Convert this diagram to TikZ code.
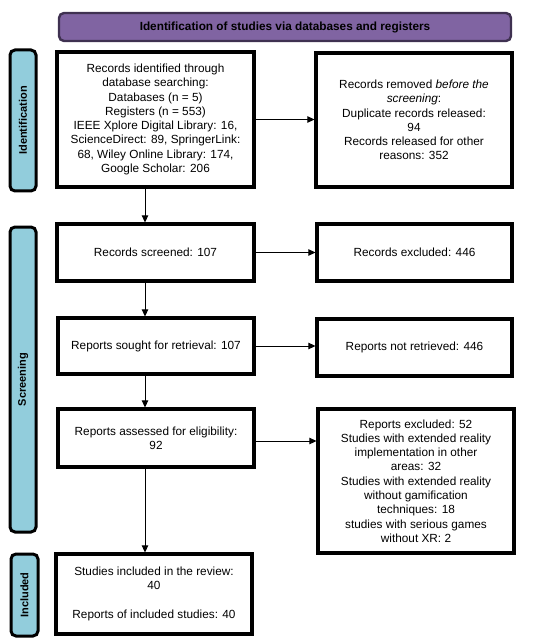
\documentclass[tikz,border=0pt]{standalone}
\usepackage{fontspec}
\setmainfont{Liberation Sans}
\usetikzlibrary{arrows.meta}
\definecolor{titlefill}{HTML}{8064A2}
\definecolor{titledraw}{HTML}{3F3151}
\definecolor{sidefill}{HTML}{92CDDC}
\tikzset{
  box/.style={draw=black, line width=3.2pt, fill=white, align=center, inner sep=2pt,
    font=\fontsize{11.8}{14.3}\selectfont},
  sidebar/.style={draw=black, line width=3pt, fill=sidefill, rounded corners=5pt,
    font=\bfseries\fontsize{11}{13}\selectfont},
  arr/.style={line width=0.9pt, -{Triangle[length=7pt,width=6.5pt]}},
}
\begin{document}
\begin{tikzpicture}[x=1pt,y=-1pt]
\useasboundingbox (0,0) rectangle (550,644);
% title
\node[draw=titledraw, line width=2.4pt, fill=titlefill, rounded corners=5pt,
  minimum width=452pt, minimum height=28pt, font=\bfseries\fontsize{11.8}{14}\selectfont]
  (title) at (285,27) {Identification of studies via databases and registers};
% side bars
\node[sidebar, minimum width=26pt, minimum height=141pt] (s1) at (23,120.5) {};
\node[rotate=90, font=\bfseries\fontsize{11}{13}\selectfont] (s1t) at (s1.center) {Identification};
\node[sidebar, minimum width=26pt, minimum height=305pt] (s2) at (23,379.5) {};
\node[rotate=90, font=\bfseries\fontsize{11}{13}\selectfont] (s2t) at (s2.center) {Screening};
\node[sidebar, minimum width=27pt, minimum height=82pt] (s3) at (24.5,595) {};
\node[rotate=90, font=\bfseries\fontsize{11}{13}\selectfont] (s3t) at (s3.center) {Included};
% boxes
\node[box, minimum width=197pt, minimum height=135pt] (b1) at (155.5,119.5)
  {Records identified through\\database searching:\\Databases (n = 5)\\Registers (n = 553)\\IEEE Xplore Digital Library: 16,\\ScienceDirect: 89, SpringerLink:\\68, Wiley Online Library: 174,\\Google Scholar: 206};
\node[box, minimum width=196pt, minimum height=134pt] (b2) at (414,120)
  {Records removed \textit{before the}\\\textit{screening}:\\Duplicate records released:\\94\\Records released for other\\reasons: 352};
\node[box, minimum width=197pt, minimum height=57pt] (b3) at (155.5,252.5) {Records screened: 107};
\node[box, minimum width=195pt, minimum height=57pt] (b4) at (414.5,252.5) {Records excluded: 446};
\node[box, minimum width=196pt, minimum height=56pt] (b5) at (156,346) {Reports sought for retrieval: 107};
\node[box, minimum width=195pt, minimum height=57pt] (b6) at (414.5,347.5) {Reports not retrieved: 446};
\node[box, minimum width=196pt, minimum height=58pt] (b7) at (156,438) {Reports assessed for eligibility:\\92};
\node[box, minimum width=196pt, minimum height=144pt] (b8) at (416,481)
  {Reports excluded: 52\\Studies with extended reality\\implementation in other\\areas: 32\\Studies with extended reality\\without gamification\\techniques: 18\\studies with serious games\\without XR: 2};
\node[box, minimum width=196pt, minimum height=80pt] (b9) at (154,594)
  {Studies included in the review:\\40\\[14.3pt]Reports of included studies: 40};
% connectors
\coordinate (ax) at (145,0);
\draw[arr] (b1.south -| ax) -- (b3.north -| ax);
\draw[arr] (b3.south -| ax) -- (b5.north -| ax);
\draw[arr] (b5.south -| ax) -- (b7.north -| ax);
\draw[arr] (b7.south -| ax) -- (b9.north -| ax);
\draw[arr] (b1.east) -- (b1.east -| b2.west);
\draw[arr] (b3.east) -- (b3.east -| b4.west);
\draw[arr] (b5.east) -- (b5.east -| b6.west);
\coordinate (y8) at (0,441);
\draw[arr] (b7.east |- y8) -- (b8.west |- y8);
\end{tikzpicture}
\end{document}
